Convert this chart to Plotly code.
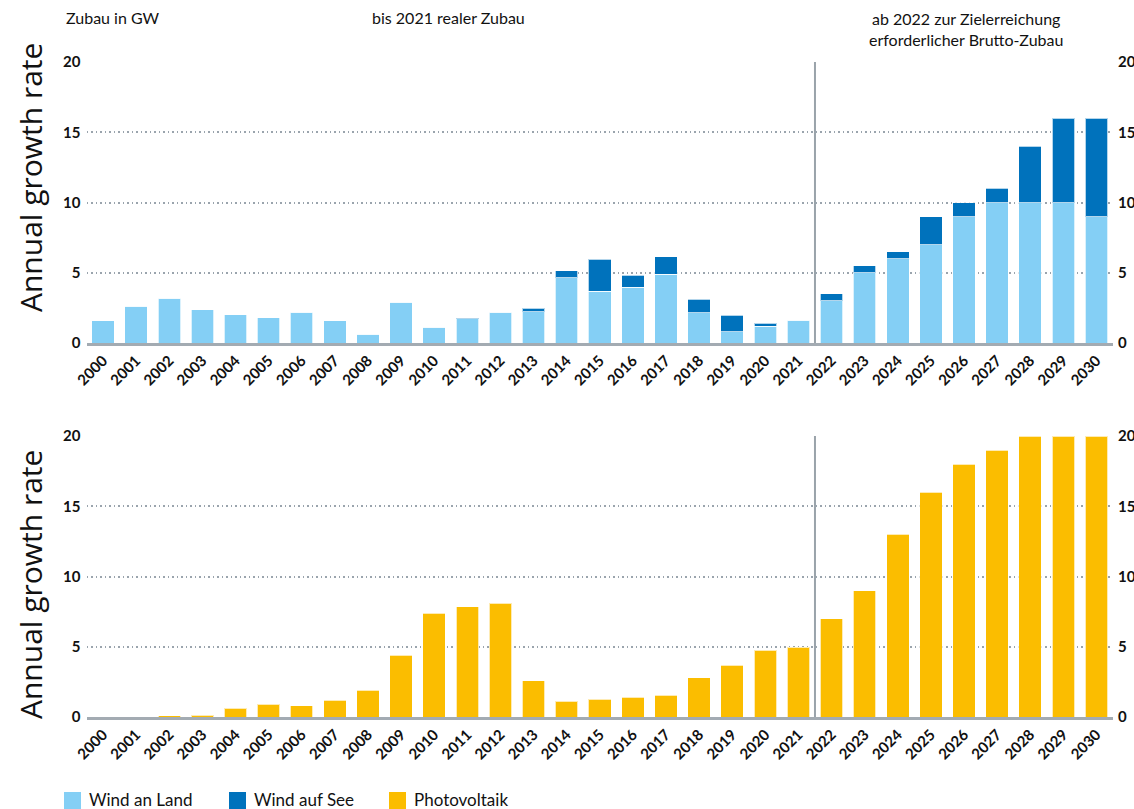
import plotly.graph_objects as go

years = [str(y) for y in range(2000, 2031)]
wind_land = [1.6, 2.6, 3.2, 2.36, 2.0, 1.79, 2.19, 1.6, 0.62, 2.9, 1.12, 1.71, 2.2, 2.24, 4.64,
             3.67, 3.98, 4.9, 2.14, 0.81, 1.19, 1.62, 3.0, 5.0, 6.0, 7.0, 9.0, 10.0, 10.0, 10.0, 9.0]
wind_see = [0, 0, 0, 0, 0, 0, 0, 0, 0, 0, 0, 0.08, 0.03, 0.24, 0.5,
            2.28, 0.83, 1.24, 0.98, 1.17, 0.21, 0.0, 0.5, 0.5, 0.5, 2.0, 1.0, 1.0, 4.0, 6.0, 7.0]
pv = [0.0, 0.01, 0.08, 0.12, 0.64, 0.9, 0.8, 1.2, 1.91, 4.39, 7.4, 7.85, 8.11, 2.57, 1.13,
      1.27, 1.42, 1.56, 2.8, 3.7, 4.76, 4.95, 7.0, 9.0, 13.0, 16.0, 18.0, 19.0, 20.0, 20.0, 20.0]
y_ticks = [0, 5, 10, 15, 20]

C_LAND = "#84cff5"
C_SEE = "#0072bc"
C_PV = "#fbbd00"
GRID = "#9aa4ad"
AXIS = "#a3abb2"
W, H = 1134, 809
FONT = "Lato"

def px_x(p):
    return p / W

def px_y(p):
    return 1 - p / H

xdom = [px_x(86.5), px_x(1113)]
top_dom = [px_y(343), px_y(62)]
bot_dom = [px_y(717), px_y(436)]

fig = go.Figure()
edge = dict(color="rgba(255,255,255,0.7)", width=1)
fig.add_bar(x=years, y=wind_land, name="Wind an Land", marker=dict(color=C_LAND, line=edge),
            xaxis="x", yaxis="y", width=0.68)
fig.add_bar(x=years, y=wind_see, name="Wind auf See", marker=dict(color=C_SEE, line=edge),
            xaxis="x", yaxis="y", width=0.68)
fig.add_bar(x=years, y=pv, name="Photovoltaik", marker=dict(color=C_PV, line=edge),
            xaxis="x2", yaxis="y2", width=0.68)
# invisible traces so right-hand overlay axes render
fig.add_scatter(x=years, y=[None] * len(years), xaxis="x", yaxis="y3", showlegend=False, hoverinfo="skip")
fig.add_scatter(x=years, y=[None] * len(years), xaxis="x2", yaxis="y4", showlegend=False, hoverinfo="skip")

tickfont = dict(family=FONT, size=15, color="#111111", weight="bold")
xcommon = dict(type="category", range=[-0.5, 30.5], domain=xdom, tickangle=-45,
               tickfont=tickfont, showgrid=False, showline=True, linecolor=AXIS, linewidth=3,
               ticks="", zeroline=False, fixedrange=True, automargin=False)
ycommon = dict(range=[0, 20], tickvals=y_ticks, tickfont=tickfont, showgrid=True,
               gridcolor=GRID, griddash="1.5px,3px", gridwidth=1.5, zeroline=False, ticks="",
               showline=False, ticklabelstandoff=5, automargin=False)
yright = dict(side="right", range=[0, 20], tickvals=y_ticks, tickfont=tickfont, showgrid=False,
              zeroline=False, ticks="", ticklabelstandoff=4, automargin=False)

fig.update_layout(
    template="none",
    width=W, height=H, margin=dict(l=0, r=0, t=0, b=0, autoexpand=False),
    paper_bgcolor="white", plot_bgcolor="white", barmode="stack", showlegend=False,
    xaxis=dict(anchor="y", **xcommon),
    xaxis2=dict(anchor="y2", **xcommon),
    yaxis=dict(domain=top_dom, anchor="x", **ycommon),
    yaxis2=dict(domain=bot_dom, anchor="x2", **ycommon),
    yaxis3=dict(overlaying="y", anchor="x", **yright),
    yaxis4=dict(overlaying="y2", anchor="x2", **yright),
)

shapes = []
for yref in ["y", "y2"]:
    shapes.append(dict(type="line", xref="x" if yref == "y" else "x2", yref=yref,
                       x0=21.5, x1=21.5, y0=0, y1=20, line=dict(color="#9aa3aa", width=2)))

annotations = []
hfont = dict(family=FONT, size=16, color="#111111")
annotations.append(dict(text="Zubau in GW", x=px_x(64), y=px_y(17), xref="paper", yref="paper",
                        xanchor="left", yanchor="middle", showarrow=False, font=hfont))
annotations.append(dict(text="bis 2021 realer Zubau", x=px_x(448), y=px_y(17), xref="paper", yref="paper",
                        xanchor="center", yanchor="middle", showarrow=False, font=hfont))
annotations.append(dict(text="ab 2022 zur Zielerreichung<br>erforderlicher Brutto-Zubau",
                        x=px_x(966), y=px_y(29), xref="paper", yref="paper",
                        xanchor="center", yanchor="middle", showarrow=False, font=hfont))
for yc in [178, 585]:
    annotations.append(dict(text="Annual growth rate", x=px_x(30), y=px_y(yc), xref="paper", yref="paper",
                            xanchor="center", yanchor="middle", textangle=-90, showarrow=False,
                            font=dict(family="Open Sans", size=30, color="#111111")))

legend_items = [("Wind an Land", C_LAND, 64), ("Wind auf See", C_SEE, 229), ("Photovoltaik", C_PV, 389)]
for name, col, x0 in legend_items:
    shapes.append(dict(type="rect", xref="paper", yref="paper", x0=px_x(x0), x1=px_x(x0 + 17),
                       y0=px_y(809), y1=px_y(792), fillcolor=col, line=dict(width=0)))
    annotations.append(dict(text=name, x=px_x(x0 + 23), y=px_y(799), xref="paper", yref="paper",
                            xanchor="left", yanchor="middle", showarrow=False,
                            font=dict(family=FONT, size=17, color="#111111")))

fig.update_layout(shapes=shapes, annotations=annotations)
fig.write_html("out.html", config={"displayModeBar": False},
               post_script="document.body.style.margin='0';document.body.style.overflow='hidden';")
